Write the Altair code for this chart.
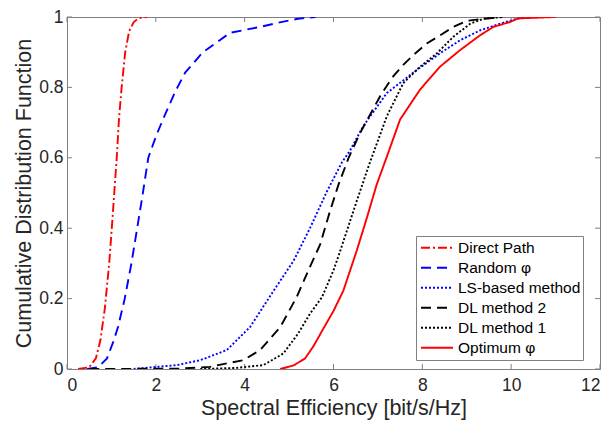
import altair as alt
import pandas as pd

series_names = ["Direct Path", "Random φ", "LS-based method", "DL method 2", "DL method 1", "Optimum φ"]
series_colors = ["#FF0000", "#0000FF", "#0000FF", "#000000", "#000000", "#FF0000"]
series_dashes = [[9, 3, 2, 3], [10, 6], [2, 2], [10, 6], [2, 2], [1, 0]]

direct_x = [0.25, 0.5, 0.65, 0.75, 0.85, 0.95, 1.02, 1.08, 1.12, 1.17, 1.23, 1.31, 1.4, 1.5, 1.6, 1.8]
direct_y = [0.0, 0.005, 0.03, 0.08, 0.17, 0.3, 0.42, 0.53, 0.6, 0.71, 0.8, 0.9, 0.96, 0.985, 0.996, 1.0]

random_x = [0.45, 0.7, 0.9, 1.05, 1.15, 1.3, 1.45, 1.58, 1.69, 1.83, 2.0, 2.18, 2.43, 2.66, 3.06, 3.67, 4.35, 4.73, 5.2, 5.6]
random_y = [0.0, 0.005, 0.03, 0.08, 0.12, 0.2, 0.3, 0.4, 0.485, 0.6, 0.66, 0.715, 0.786, 0.842, 0.9, 0.955, 0.972, 0.983, 0.995, 1.0]

ls_x = [1.5, 2.02, 2.47, 3.0, 3.6, 4.12, 4.65, 5.1, 5.47, 5.85, 6.19, 6.37, 6.67, 7.2, 7.88, 8.4, 8.85, 9.3, 9.75, 10.05, 10.3]
ls_y = [0.0, 0.006, 0.011, 0.025, 0.054, 0.119, 0.222, 0.307, 0.4, 0.504, 0.587, 0.62, 0.69, 0.784, 0.85, 0.897, 0.934, 0.962, 0.981, 0.992, 1.0]

dl2_x = [0.5, 2.5, 3.22, 3.6, 3.97, 4.35, 4.8, 5.17, 5.43, 5.7, 5.92, 6.11, 6.34, 6.6, 7.05, 7.31, 7.57, 7.8, 8.1, 8.4, 8.7, 9.0, 9.38, 9.8]
dl2_y = [0.0, 0.001, 0.006, 0.016, 0.025, 0.054, 0.119, 0.204, 0.279, 0.354, 0.448, 0.523, 0.6, 0.671, 0.775, 0.826, 0.864, 0.892, 0.925, 0.948, 0.972, 0.989, 0.995, 1.0]

dl1_x = [3.0, 3.8, 4.42, 4.87, 5.2, 5.47, 5.74, 6.0, 6.15, 6.52, 6.82, 7.2, 7.57, 7.95, 8.33, 8.7, 9.08, 9.37, 9.8]
dl1_y = [0.0, 0.003, 0.011, 0.044, 0.1, 0.157, 0.204, 0.28, 0.335, 0.476, 0.587, 0.718, 0.812, 0.859, 0.897, 0.944, 0.981, 0.995, 1.0]

opt_x = [4.8, 5.1, 5.36, 5.55, 5.75, 6.0, 6.22, 6.52, 6.75, 6.97, 7.24, 7.5, 7.95, 8.4, 8.85, 9.3, 9.6, 9.98, 10.15, 11.0]
opt_y = [0.0, 0.01, 0.03, 0.065, 0.11, 0.165, 0.222, 0.335, 0.429, 0.523, 0.617, 0.709, 0.794, 0.859, 0.906, 0.948, 0.972, 0.986, 0.996, 1.0]

x_ticks = [0, 2, 4, 6, 8, 10, 12]
y_ticks = [0, 0.2, 0.4, 0.6, 0.8, 1]

all_x = [direct_x, random_x, ls_x, dl2_x, dl1_x, opt_x]
all_y = [direct_y, random_y, ls_y, dl2_y, dl1_y, opt_y]

rows = []
for name, xs, ys in zip(series_names, all_x, all_y):
    for i, (a, b) in enumerate(zip(xs, ys)):
        rows.append({"series": name, "x": a, "y": b, "i": i})
df = pd.DataFrame(rows)

FONT = "Liberation Sans"
AXIS_COLOR = "#808080"
TEXT_COLOR = "#262626"

xscale = alt.Scale(domain=[0, 12], nice=False, zero=False)
yscale = alt.Scale(domain=[0, 1], nice=False, zero=False)

axis_style = dict(labelFont=FONT, titleFont=FONT, labelFontSize=17.5, titleFontSize=21.5,
                  labelColor=TEXT_COLOR, titleColor=TEXT_COLOR, titleFontWeight="normal",
                  tickSize=0, grid=False, domain=False)

lines = alt.Chart(df).mark_line(strokeWidth=1.9, clip=True).encode(
    x=alt.X("x:Q", scale=xscale,
            axis=alt.Axis(values=x_ticks, title="Spectral Efficiency [bit/s/Hz]",
                          labelPadding=7, titlePadding=4, **axis_style)),
    y=alt.Y("y:Q", scale=yscale,
            axis=alt.Axis(values=y_ticks, title="Cumulative Distribution Function",
                          labelPadding=4, titlePadding=3, format="~g", **axis_style)),
    color=alt.Color("series:N", scale=alt.Scale(domain=series_names, range=series_colors),
                    legend=alt.Legend(orient="none", legendX=349, legendY=219, title=None,
                                      strokeColor=AXIS_COLOR, fillColor="white", padding=2,
                                      symbolType="stroke", symbolSize=1024, symbolStrokeWidth=2,
                                      symbolOffset=2,
                                      clipHeight=19.6, rowPadding=0, labelFontSize=15.5,
                                      labelFont=FONT, labelColor="#000000", labelOffset=4,
                                      labelLimit=300, cornerRadius=0)),
    strokeDash=alt.StrokeDash("series:N", scale=alt.Scale(domain=series_names, range=series_dashes),
                              legend=alt.Legend(orient="none", legendX=349, legendY=219, title=None)),
    order="i:Q",
)

PLOT_H = 352
tick_len_x = 5 / PLOT_H
tick_len_y = 5 / 533.0 * 12

xt = pd.DataFrame({"t": x_ticks})
yt = pd.DataFrame({"t": y_ticks})

bottom_ticks = alt.Chart(xt).mark_rule(color=AXIS_COLOR, strokeWidth=1).encode(
    x=alt.X("t:Q", scale=xscale), y=alt.datum(0, scale=yscale), y2=alt.datum(tick_len_x))
top_ticks = alt.Chart(xt).mark_rule(color=AXIS_COLOR, strokeWidth=1).encode(
    x=alt.X("t:Q", scale=xscale), y=alt.datum(1 - tick_len_x, scale=yscale), y2=alt.datum(1))
left_ticks = alt.Chart(yt).mark_rule(color=AXIS_COLOR, strokeWidth=1).encode(
    y=alt.Y("t:Q", scale=yscale), x=alt.datum(0, scale=xscale), x2=alt.datum(tick_len_y))
right_ticks = alt.Chart(yt).mark_rule(color=AXIS_COLOR, strokeWidth=1).encode(
    y=alt.Y("t:Q", scale=yscale), x=alt.datum(12 - tick_len_y, scale=xscale), x2=alt.datum(12))

chart = alt.layer(bottom_ticks, top_ticks, left_ticks, right_ticks, lines).properties(
    width=533, height=PLOT_H,
    autosize=alt.AutoSizeParams(type="none"),
    padding={"left": 59, "top": 9, "right": 2, "bottom": 56},
    background="white",
).configure_view(
    stroke=AXIS_COLOR, strokeWidth=1,
)

chart.save("out.html", embed_options={"renderer": "svg", "actions": False})
